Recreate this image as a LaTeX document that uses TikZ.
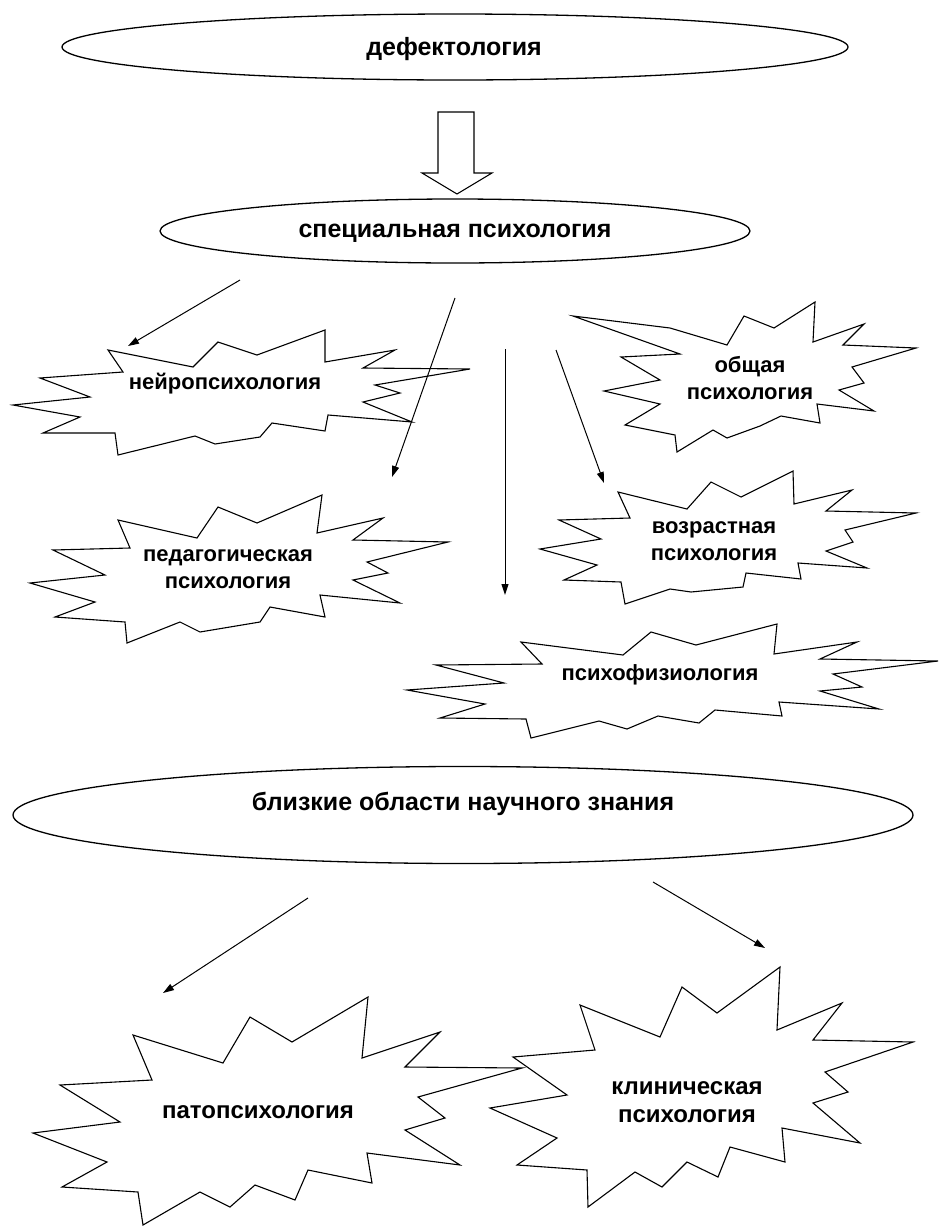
\documentclass[tikz,border=0pt]{standalone}
\usepackage{fontspec}
\setmainfont{Liberation Sans}
\usetikzlibrary{shapes.geometric,arrows.meta}
\begin{document}
\begin{tikzpicture}[x=1pt,y=-1pt,
  oval/.style={ellipse,draw=black,line width=1.3pt,inner sep=0pt},
  burst/.style={draw=black,line width=1.1pt,line join=miter},
  hollow/.style={draw=black,line width=1.1pt,line join=miter},
  midlabel/.style={font=\bfseries\fontsize{22}{27}\selectfont,align=center,inner sep=0pt},
  lowlabel/.style={font=\bfseries\fontsize{24}{28}\selectfont,align=center,inner sep=0pt},
  ovallabel/.style={font=\bfseries\fontsize{25}{30}\selectfont,inner sep=0pt},
  pointer/.style={draw=black,line width=1pt,-{Triangle[length=11pt,width=7pt]}}]

\useasboundingbox (0,0) rectangle (940,1227);

% ---------- ovals ----------
\node[oval,minimum width=786,minimum height=66] (defect) at (455,47) {};
\node[ovallabel,anchor=base] (defectText) at (454,55) {дефектология};

\node[oval,minimum width=590,minimum height=64] (special) at (455,231) {};
\node[ovallabel,anchor=base] (specialText) at (455,237) {специальная психология};

\node[oval,minimum width=900,minimum height=97] (near) at (463,815) {};
\node[ovallabel,anchor=base] (nearText) at (463,810) {близкие области научного знания};

% ---------- hollow block arrow between the two upper ovals ----------
\draw[hollow] (438,112) -- (474,112) -- (474,173) -- (492,173) -- (457,194)
  -- (422,173) -- (438,173) -- cycle;

% ---------- starbursts ----------
% нейропсихология
\draw[burst] (108,350) -- (193,367) -- (218,342) -- (257,355) -- (325,330)
  -- (325,362) -- (395,350) -- (363,368) -- (470,369) -- (375,385) -- (400,393)
  -- (363,402) -- (412,422) -- (328,415) -- (325,431) -- (272,423) -- (260,437)
  -- (215,444) -- (195,436) -- (118,455) -- (115,433) -- (43,433) -- (80,417)
  -- (13,405) -- (90,397) -- (40,378) -- (123,372) -- cycle;
\node[midlabel,anchor=base] (neuro) at (225,389) {нейропсихология};

% педагогическая психология
\draw[burst] (118,520) -- (197,538) -- (218,507) -- (257,523) -- (322,495)
  -- (317,533) -- (383,518) -- (353,540) -- (448,542) -- (367,562) -- (388,573)
  -- (353,580) -- (400,603) -- (320,595) -- (325,617) -- (270,607) -- (260,622)
  -- (200,632) -- (180,622) -- (127,643) -- (125,622) -- (55,617) -- (95,602)
  -- (30,583) -- (105,575) -- (53,550) -- (130,548) -- cycle;
\node[midlabel] (pedago) at (228,569) {педагогическая\\психология};

% общая психология
\draw[burst] (573,316) -- (670,328) -- (727,345) -- (744,316) -- (774,328)
  -- (815,302) -- (813,342) -- (864,324) -- (843,345) -- (916,348) -- (852,367)
  -- (864,383) -- (839,390) -- (874,411) -- (817,404) -- (820,423) -- (781,416)
  -- (760,426) -- (727,438) -- (713,430) -- (677,452) -- (675,435) -- (625,425)
  -- (660,404) -- (604,391) -- (660,380) -- (621,357) -- (680,354) -- cycle;
\node[midlabel] (general) at (750,378) {общая\\психология};

% возрастная психология
\draw[burst] (618,492) -- (687,509) -- (711,482) -- (741,497) -- (793,471)
  -- (794,504) -- (852,490) -- (826,511) -- (916,513) -- (845,530) -- (853,542)
  -- (826,551) -- (867,568) -- (798,563) -- (801,579) -- (746,573) -- (743,587)
  -- (691,592) -- (670,589) -- (625,604) -- (621,582) -- (564,580) -- (597,565)
  -- (540,549) -- (601,539) -- (559,520) -- (630,518) -- cycle;
\node[midlabel] (age) at (714,541) {возрастная\\психология};

% психофизиология
\draw[burst] (521,642) -- (623,655) -- (651,632) -- (696,645) -- (777,624)
  -- (774,654) -- (857,642) -- (820,659) -- (938,661) -- (833,674) -- (862,687)
  -- (820,691) -- (879,709) -- (779,702) -- (782,716) -- (715,710) -- (699,723)
  -- (658,716) -- (627,729) -- (599,721) -- (531,738) -- (526,719) -- (440,718)
  -- (485,704) -- (407,690) -- (504,683) -- (436,665) -- (542,664) -- cycle;
\node[midlabel,anchor=base] (physio) at (660,680) {психофизиология};

% патопсихология
\draw[burst] (133,1035) -- (223,1063) -- (250,1017) -- (292,1042) -- (368,997)
  -- (362,1058) -- (440,1032) -- (405,1067) -- (522,1068) -- (418,1097)
  -- (445,1118) -- (405,1130) -- (460,1165) -- (367,1153) -- (372,1183)
  -- (308,1170) -- (295,1200) -- (255,1185) -- (230,1207) -- (200,1192)
  -- (143,1225) -- (138,1192) -- (62,1187) -- (107,1162) -- (33,1133)
  -- (120,1122) -- (60,1085) -- (152,1080) -- cycle;
\node[lowlabel,anchor=base] (patho) at (258,1118) {патопсихология};

% клиническая психология
\draw[burst] (580,1005) -- (660,1037) -- (682,987) -- (717,1013) -- (780,967)
  -- (777,1030) -- (842,1003) -- (813,1040) -- (913,1042) -- (825,1072)
  -- (848,1092) -- (813,1103) -- (860,1143) -- (782,1128) -- (785,1162)
  -- (730,1147) -- (718,1177) -- (687,1162) -- (662,1187) -- (635,1172)
  -- (588,1207) -- (587,1170) -- (517,1165) -- (557,1138) -- (490,1108)
  -- (567,1095) -- (513,1057) -- (595,1050) -- cycle;
\node[lowlabel] (clinic) at (687,1102) {клиническая\\психология};

% ---------- pointers ----------
\coordinate (p1s) at (240,280);  \coordinate (p1e) at (128,346);
\coordinate (p2s) at (455,298);  \coordinate (p2e) at (392,477);
\coordinate (p3s) at (505,349);  \coordinate (p3e) at (505,595);
\coordinate (p4s) at (556,350);  \coordinate (p4e) at (604,483);
\coordinate (q1s) at (308,898);  \coordinate (q1e) at (163,993);
\coordinate (q2s) at (653,882);  \coordinate (q2e) at (765,948);

\draw[pointer] (p1s) -- (p1e);
\draw[pointer] (p2s) -- (p2e);
\draw[pointer] (p3s) -- (p3e);
\draw[pointer] (p4s) -- (p4e);
\draw[pointer] (q1s) -- (q1e);
\draw[pointer] (q2s) -- (q2e);
\end{tikzpicture}
\end{document}
